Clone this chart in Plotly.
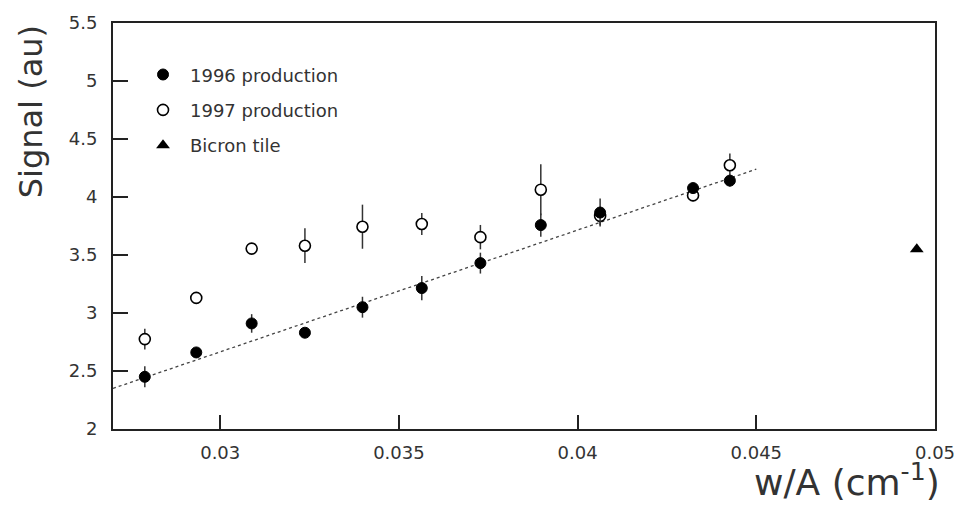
import plotly.graph_objects as go

# Data
x_wa = [0.02789, 0.02933, 0.03088, 0.03237, 0.03398, 0.03564, 0.03728, 0.03897, 0.04063, 0.04323, 0.04426]
y_1996 = [2.45, 2.66, 2.91, 2.83, 3.05, 3.215, 3.43, 3.758, 3.866, 4.077, 4.141]
e_1996 = [0.09, 0.04, 0.08, 0.02, 0.09, 0.105, 0.09, 0.10, 0.12, 0.03, 0.05]
y_1997 = [2.775, 3.13, 3.555, 3.58, 3.744, 3.767, 3.654, 4.063, 3.837, 4.014, 4.274]
e_1997 = [0.09, 0.04, 0.04, 0.15, 0.19, 0.095, 0.105, 0.22, 0.08, 0.05, 0.10]
x_bicron = [0.04949]
y_bicron = [3.55]

fit_x = [0.027, 0.045]
fit_intercept_at_027 = 2.35
fit_slope = 105.0
fit_y = [fit_intercept_at_027 + fit_slope * (v - 0.027) for v in fit_x]

x_ticks = [0.03, 0.035, 0.04, 0.045, 0.05]
y_ticks = [2, 2.5, 3, 3.5, 4, 4.5, 5, 5.5]

FONT = "DejaVu Sans"
TXT = "#333333"

fig = go.Figure()

fig.add_trace(go.Scatter(
    x=fit_x, y=fit_y, mode="lines",
    line=dict(color="#444444", width=1.3, dash="dot"),
    showlegend=False, hoverinfo="skip"))

fig.add_trace(go.Scatter(
    x=x_wa, y=y_1997, mode="markers", name="1997 production",
    error_y=dict(type="data", array=e_1997, color="#333333", thickness=1.5, width=0),
    marker=dict(symbol="circle", size=11, color="white", line=dict(color="black", width=1.6)),
    legendgroup="b", legendrank=2))

fig.add_trace(go.Scatter(
    x=x_wa, y=y_1996, mode="markers", name="1996 production",
    error_y=dict(type="data", array=e_1996, color="#333333", thickness=1.5, width=0),
    marker=dict(symbol="circle", size=11, color="black", line=dict(color="black", width=1)),
    legendgroup="a", legendrank=1))

fig.add_trace(go.Scatter(
    x=x_bicron, y=y_bicron, mode="markers", name="Bicron tile",
    marker=dict(symbol="triangle-up", size=12, color="black"),
    legendgroup="c", legendrank=3))

axis_common = dict(
    showgrid=False, zeroline=False, showline=True, linecolor="#222222", linewidth=2,
    mirror=True, ticks="inside", tickcolor="#222222", tickwidth=1.5,
    tickfont=dict(family=FONT, size=18, color=TXT),
)

fig.update_xaxes(range=[0.027, 0.05], tickvals=x_ticks,
                 ticktext=[str(v) for v in x_ticks], ticklen=14,
                 ticklabelstandoff=6, **axis_common)
fig.update_yaxes(range=[2, 5.5], tickvals=y_ticks,
                 ticktext=[("%g" % v) for v in y_ticks], ticklen=15,
                 ticklabelstandoff=10, **axis_common)

fig.add_annotation(xref="paper", yref="paper", x=1.008, y=-0.065,
                   xanchor="right", yanchor="top", showarrow=False,
                   text="w/A (cm<sup>-1</sup>)",
                   font=dict(family=FONT, size=36, color=TXT))
fig.add_annotation(xref="paper", yref="paper", x=-0.10, y=1.0,
                   xanchor="center", yanchor="top", showarrow=False, textangle=-90,
                   text="Signal (au)",
                   font=dict(family=FONT, size=32, color=TXT))

fig.update_layout(
    width=967, height=505,
    margin=dict(l=113, r=25, t=15, b=76),
    paper_bgcolor="white", plot_bgcolor="white",
    legend=dict(x=0.028, y=0.918, xanchor="left", yanchor="top",
                bgcolor="rgba(0,0,0,0)", font=dict(family=FONT, size=18, color=TXT),
                tracegroupgap=9, itemwidth=44, traceorder="grouped"),
)

fig.write_html("out.html")
